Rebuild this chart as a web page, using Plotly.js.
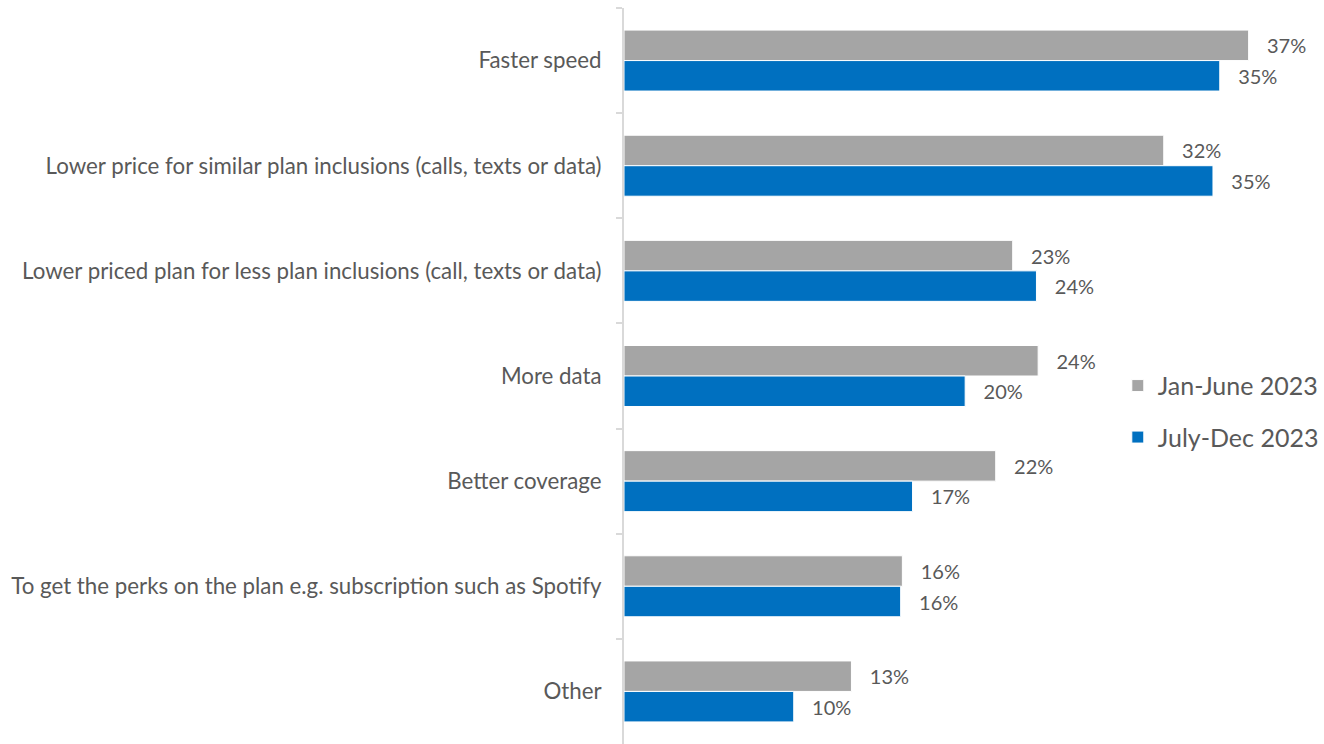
<!DOCTYPE html>
<html>
<head>
<meta charset="utf-8">
<script src="https://cdn.plot.ly/plotly-3.0.1.min.js"></script>
<style>html,body{margin:0;padding:0;background:#fff;}#chart{width:1324px;height:744px;}</style>
</head>
<body>
<div id="chart"></div>
<script>
const categories = [
  "Faster speed",
  "Lower price for similar plan inclusions (calls, texts or data)",
  "Lower priced plan for less plan inclusions (call, texts or data)",
  "More data",
  "Better coverage",
  "To get the perks on the plan e.g. subscription such as Spotify",
  "Other"
];
const seriesNames = ["Jan-June 2023", "July-Dec 2023"];
const janJune = [36.8, 31.8, 22.9, 24.4, 21.9, 16.4, 13.4];
const julyDec = [35.1, 34.7, 24.3, 20.1, 17.0, 16.3, 10.0];
const colors = ["#a5a5a5", "#0070c0"];

const FONT = "Lato, 'Open Sans', sans-serif";
const TXT = "#595959";

function mk(name, vals, color, grp) {
  return {
    type: "bar", orientation: "h", name: name,
    y: categories, x: vals,
    marker: {color: color, line: {color: "#ffffff", width: 1}},
    texttemplate: "   %{x:.0f}%",
    textposition: "outside",
    cliponaxis: false,
    textfont: {family: FONT, size: 20, color: TXT},
    legendgroup: grp,
    hoverinfo: "none"
  };
}

const data = [mk(seriesNames[0], janJune, colors[0], "a"), mk(seriesNames[1], julyDec, colors[1], "b")];

const layout = {
  width: 1324, height: 744,
  margin: {l: 624, r: 24, t: 8, b: 0},
  paper_bgcolor: "#ffffff", plot_bgcolor: "#ffffff",
  barmode: "group", bargap: 0.42, bargroupgap: 0,
  showlegend: true,
  legend: {
    x: (1120 - 624) / (1324 - 624 - 24), xref: "paper", y: 0.452, yanchor: "middle",
    font: {family: FONT, size: 25, color: TXT},
    traceorder: "grouped", tracegroupgap: 16,
    bgcolor: "rgba(0,0,0,0)", itemwidth: 30
  },
  xaxis: {
    range: [0, 39.65], showgrid: false, zeroline: false,
    showticklabels: false, showline: false, ticks: ""
  },
  yaxis: {
    autorange: "reversed", type: "category",
    showline: true, linecolor: "#d9d9d9", linewidth: 2,
    ticks: "outside", tickson: "boundaries", ticklen: 6, tickcolor: "#d9d9d9", tickwidth: 2,
    showgrid: false, ticklabelstandoff: 16,
    tickfont: {family: FONT, size: 22.3, color: TXT}
  },
  font: {family: FONT, color: TXT}
};

Plotly.newPlot("chart", data, layout, {staticPlot: true});
</script>
</body>
</html>
